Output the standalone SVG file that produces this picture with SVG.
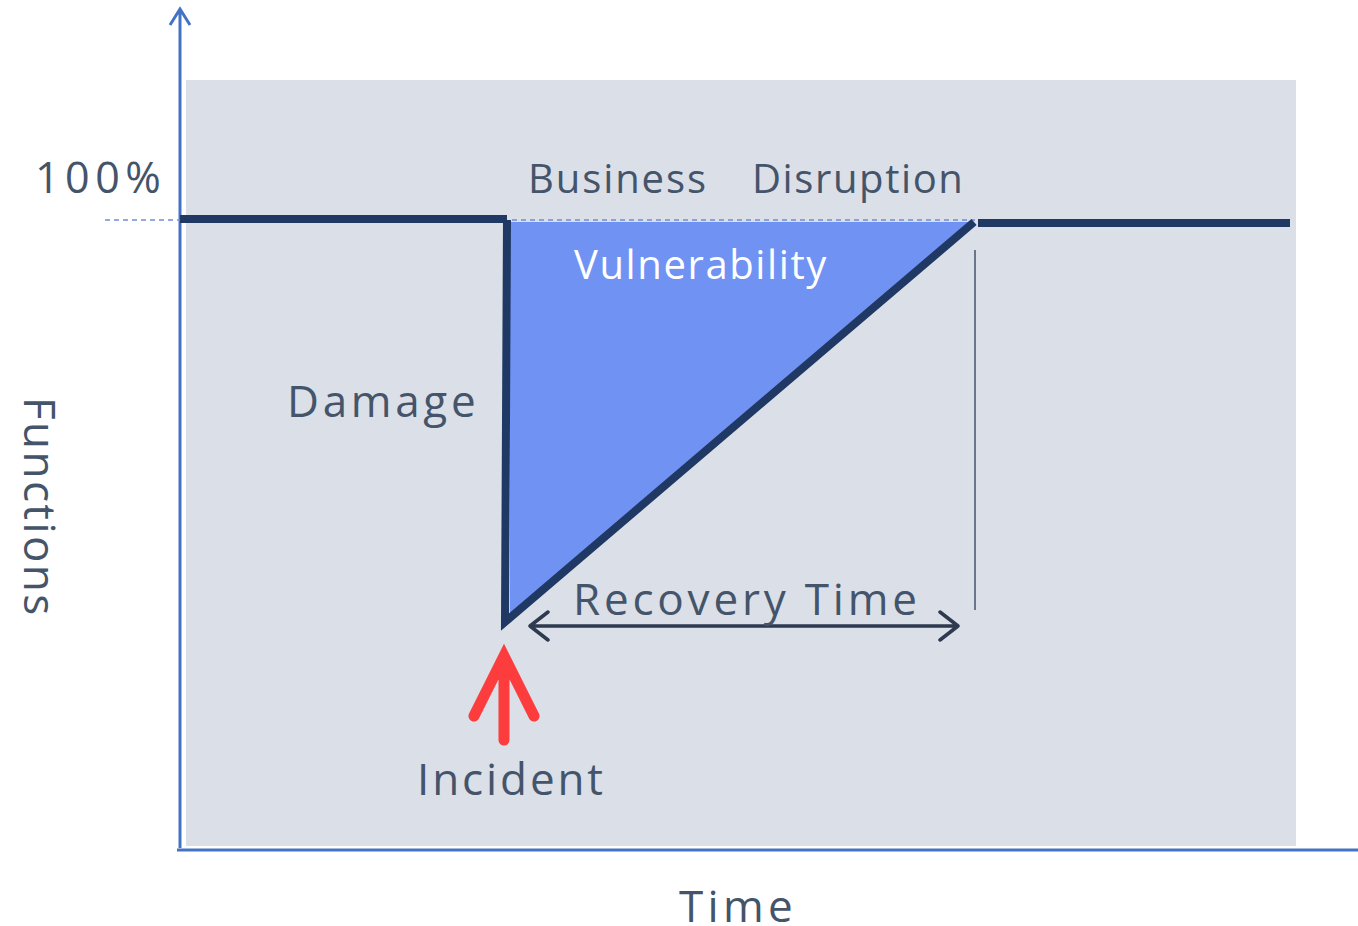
<svg xmlns="http://www.w3.org/2000/svg" width="1358" height="926" viewBox="0 0 1358 926">
<style>
.lbl{font-family:"Open Sans","Noto Sans","Liberation Sans",sans-serif;font-size:44px;fill:#44546A}
.top{font-size:40px}
.axis{stroke:#4472C4;stroke-width:3;fill:none}
.curve{stroke:#1F3864;stroke-width:8;fill:none}
.dash{stroke:#6F8FD8;stroke-width:1.5;stroke-dasharray:5,4;fill:none}
</style>
<rect width="1358" height="926" fill="#FFFFFF"/>
<g id="plot-area"><rect x="186" y="80" width="1110" height="766" fill="#DBDFE7"/></g>
<g id="axes">
<path class="axis" d="M180,848 V9 M170,25 L180,9 L190,25"/>
<path class="axis" d="M177,850 H1358"/>
</g>
<g id="vulnerability"><polygon points="510,222 974,222 510,616" fill="#7092F3"/></g>
<g id="connectors">
<path class="dash" d="M105,220 H180 M512,220 H975"/>
<path class="curve" d="M180,219 H507 M507,220 L505,622 L974,222 M978,223 H1290"/>
<path d="M975,250 V610" stroke="#44546A" stroke-width="1.5"/>
<path d="M530,626 H956 M548,612 L530,626 L548,640 M940,612 L958,626 L940,640" stroke="#2E3A50" stroke-width="3.5" fill="none" stroke-linecap="round" stroke-linejoin="round"/>
<path d="M504,740 V662 M474,716 L504,656 L534,716" stroke="#FF2A2A" stroke-opacity="0.9" stroke-width="11" fill="none" stroke-linecap="round"/>
</g>
<g id="labels">
<text class="lbl" x="35" y="193" style="font-size:43px;letter-spacing:5.5px">100%</text>
<text class="lbl top" x="528" y="193" style="letter-spacing:1.9px">Business</text>
<text class="lbl top" x="752" y="193" style="letter-spacing:1.6px">Disruption</text>
<text class="lbl top" x="574" y="279" style="fill:#FFFFFF;letter-spacing:1.6px">Vulnerability</text>
<text class="lbl" x="287" y="417" style="letter-spacing:3.7px">Damage</text>
<text class="lbl" x="573" y="615" style="letter-spacing:3.8px">Recovery Time</text>
<text class="lbl" x="417" y="795" style="letter-spacing:2.9px">Incident</text>
<text class="lbl" x="679" y="922" style="letter-spacing:4.3px">Time</text>
<text class="lbl" transform="translate(24,397) rotate(90)" style="letter-spacing:2.4px">Functions</text>
</g>
</svg>
